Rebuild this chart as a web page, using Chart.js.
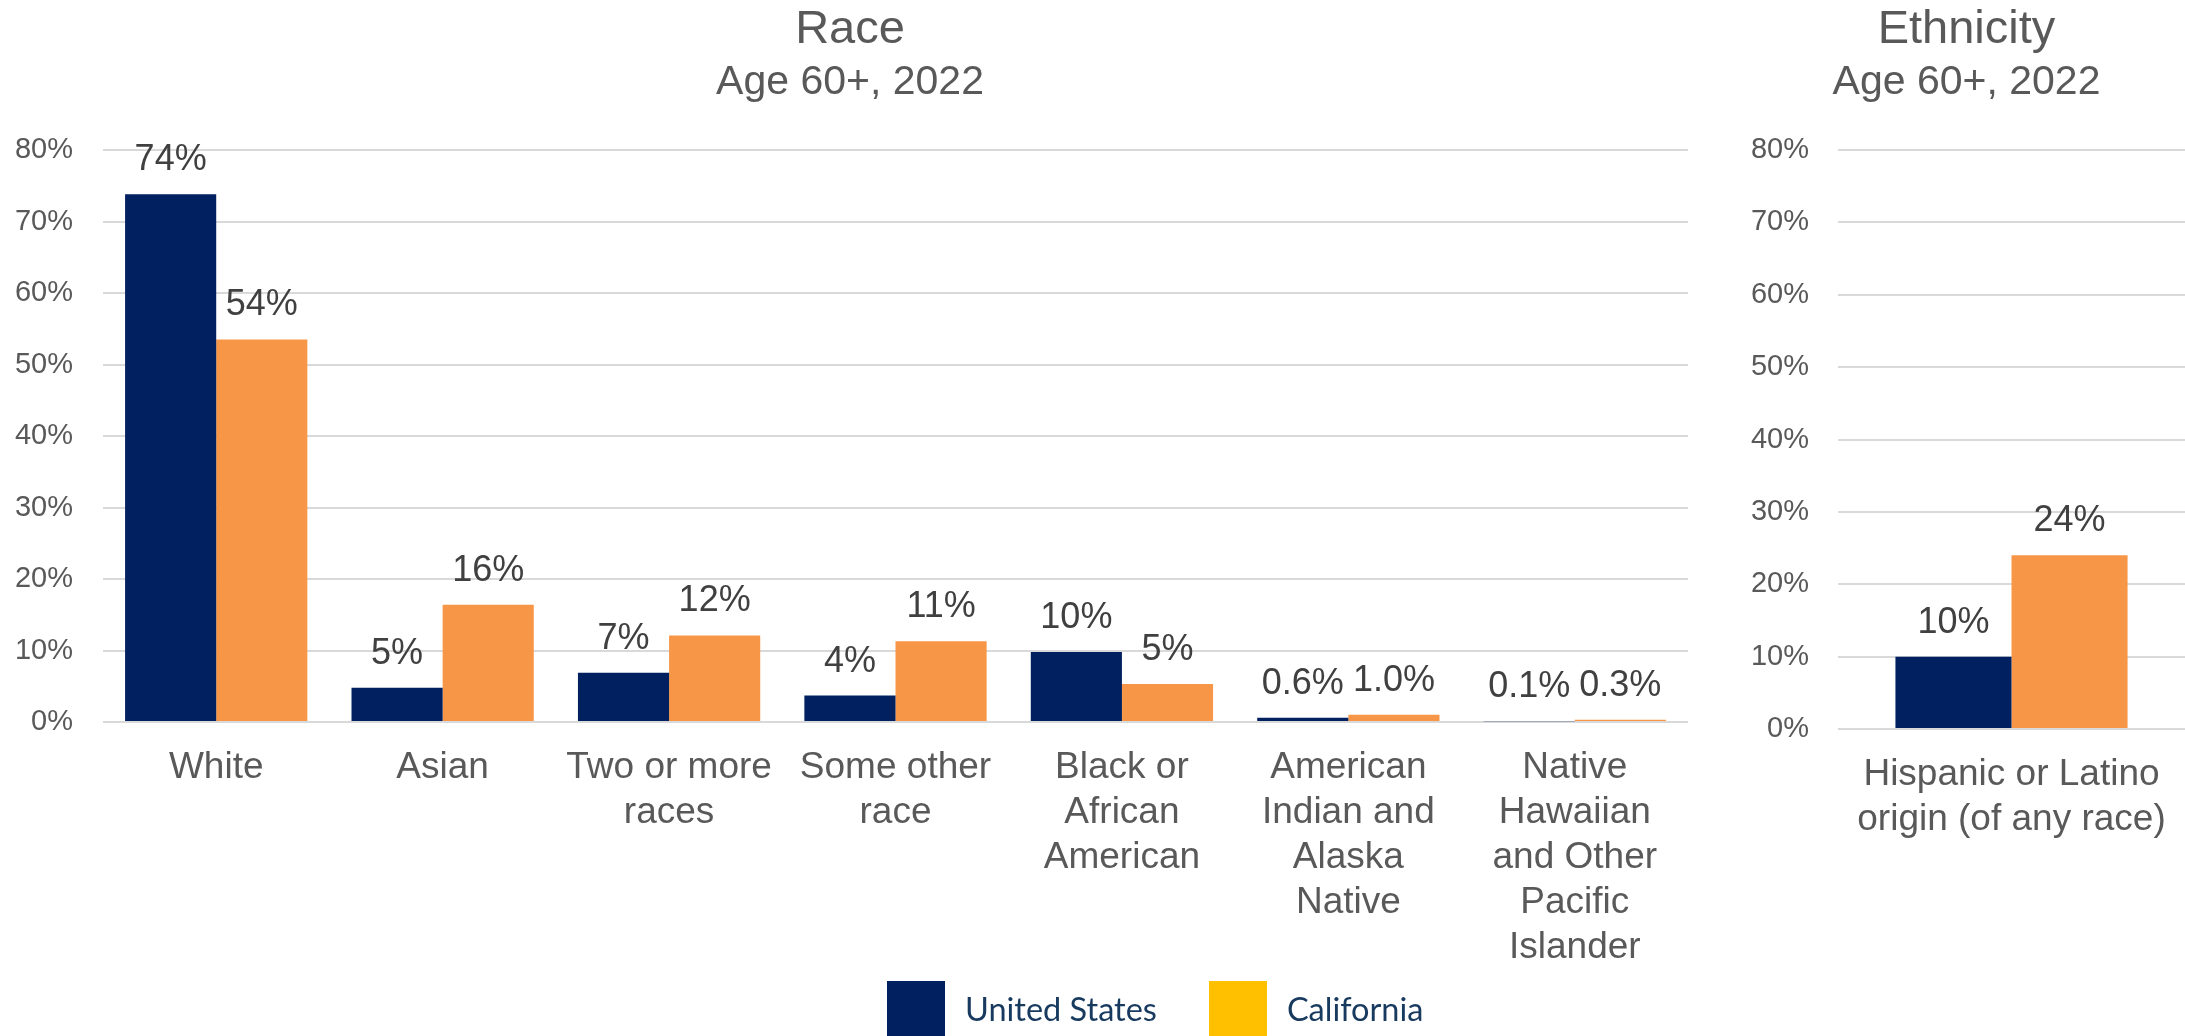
<!DOCTYPE html>
<html>
<head>
<meta charset="utf-8">
<script src="https://cdn.jsdelivr.net/npm/chart.js@4.4.1/dist/chart.umd.min.js"></script>
<style>
html,body{margin:0;padding:0;background:#fff;width:2185px;height:1036px;overflow:hidden;position:relative}
#left{position:absolute;left:0;top:0}
#right{position:absolute;left:1700px;top:0}
#legend{position:absolute;left:887px;top:981px;display:flex;align-items:flex-start;font-family:Lato,"Open Sans",sans-serif;font-size:32.5px;color:#173A5E}
.item{display:flex;align-items:flex-start;margin-right:52px}
.sw{width:58px;height:58px;margin-right:20px}
.tx{line-height:34px;margin-top:11px;white-space:nowrap}
</style>
</head>
<body>
<canvas id="left" width="1700" height="1036"></canvas>
<canvas id="right" width="485" height="1036"></canvas>
<div id="legend"></div>
<script>
// ---- data ----
const raceCategories = ['White', 'Asian', ['Two or more', 'races'], ['Some other', 'race'], ['Black or', 'African', 'American'], ['American', 'Indian and', 'Alaska', 'Native'], ['Native', 'Hawaiian', 'and Other', 'Pacific', 'Islander']];
const raceUS = [73.8, 4.8, 6.9, 3.7, 9.8, 0.6, 0.1];
const raceCA = [53.5, 16.4, 12.1, 11.3, 5.3, 1.0, 0.3];
const ethCategories = [['Hispanic or Latino', 'origin (of any race)']];
const ethUS = [10.0];
const ethCA = [24.0];
const seriesNames = ['United States', 'California'];
const raceTitle = 'Race';
const ethTitle = 'Ethnicity';
const subTitle = 'Age 60+, 2022';
const yMin = 0, yMax = 80, yStep = 10;

// ---- styles ----
const barColors = ['#002060', '#F79646'];
const legendColors = ['#002060', '#FFC000'];
const FONT = '"Liberation Sans", Arial, Helvetica, sans-serif';
Chart.defaults.font.family = FONT;

function fmt(v) { return v < 2 ? v.toFixed(1) + '%' : Math.round(v) + '%'; }

const valueLabels = {
  id: 'valueLabels',
  afterDatasetsDraw(chart) {
    const ctx = chart.ctx;
    ctx.save();
    ctx.font = '36px ' + FONT;
    ctx.fillStyle = '#404040';
    ctx.textAlign = 'center';
    ctx.textBaseline = 'alphabetic';
    chart.data.datasets.forEach((ds, i) => {
      chart.getDatasetMeta(i).data.forEach((bar, j) => {
        ctx.fillText(fmt(ds.data[j]), bar.x, bar.y - 24);
      });
    });
    ctx.restore();
  }
};

function makeChart(id, cats, us, ca, cfg) {
  return new Chart(document.getElementById(id), {
    type: 'bar',
    data: {
      labels: cats,
      datasets: [
        { label: seriesNames[0], data: us, backgroundColor: barColors[0], borderWidth: 0, categoryPercentage: cfg.catPct, barPercentage: 1.0 },
        { label: seriesNames[1], data: ca, backgroundColor: barColors[1], borderWidth: 0, categoryPercentage: cfg.catPct, barPercentage: 1.0 }
      ]
    },
    options: {
      responsive: false,
      animation: false,
      layout: { padding: { left: cfg.padLeft, right: cfg.padRight, top: 0, bottom: 0 } },
      plugins: {
        legend: { display: false },
        tooltip: { enabled: false },
        title: { display: true, text: cfg.title, color: '#595959', font: { size: 47, weight: 'normal', lineHeight: 1.2 }, padding: { top: 2, bottom: 0 } },
        subtitle: { display: true, text: subTitle, color: '#595959', font: { size: 41, weight: 'normal', lineHeight: 1.2 }, padding: { top: 0, bottom: 42.4 } }
      },
      scales: {
        x: {
          grid: { display: true, color: 'transparent', drawOnChartArea: false, drawTicks: true, tickLength: 11, tickColor: 'transparent' },
          border: { display: false },
          ticks: { color: '#595959', font: { size: 37, lineHeight: 1.22 }, padding: 12, autoSkip: false, maxRotation: 0, minRotation: 0 },
          afterFit(scale) { scale.height = cfg.xHeight; }
        },
        y: {
          min: yMin, max: yMax,
          grid: { color: '#D9D9D9', lineWidth: 2, drawTicks: false },
          border: { display: false },
          ticks: { stepSize: yStep, color: '#595959', font: { size: 29 }, padding: cfg.yPad, callback: v => v + '%' },
          afterFit(scale) { scale.width = cfg.yWidth; }
        }
      }
    },
    plugins: [valueLabels]
  });
}

makeChart('left', raceCategories, raceUS, raceCA, { catPct: 0.805, title: raceTitle, padLeft: 12, padRight: 12, yWidth: 91, yPad: 30, xHeight: 314 });
makeChart('right', ethCategories, ethUS, ethCA, { catPct: 0.669, title: ethTitle, padLeft: 48, padRight: 0, yWidth: 90, yPad: 29, xHeight: 307 });

// ---- legend ----
const lg = document.getElementById('legend');
seriesNames.forEach((name, i) => {
  const it = document.createElement('div'); it.className = 'item';
  const sw = document.createElement('div'); sw.className = 'sw'; sw.style.background = legendColors[i];
  const tx = document.createElement('div'); tx.className = 'tx'; tx.textContent = name;
  it.appendChild(sw); it.appendChild(tx); lg.appendChild(it);
});
</script>
</body>
</html>
